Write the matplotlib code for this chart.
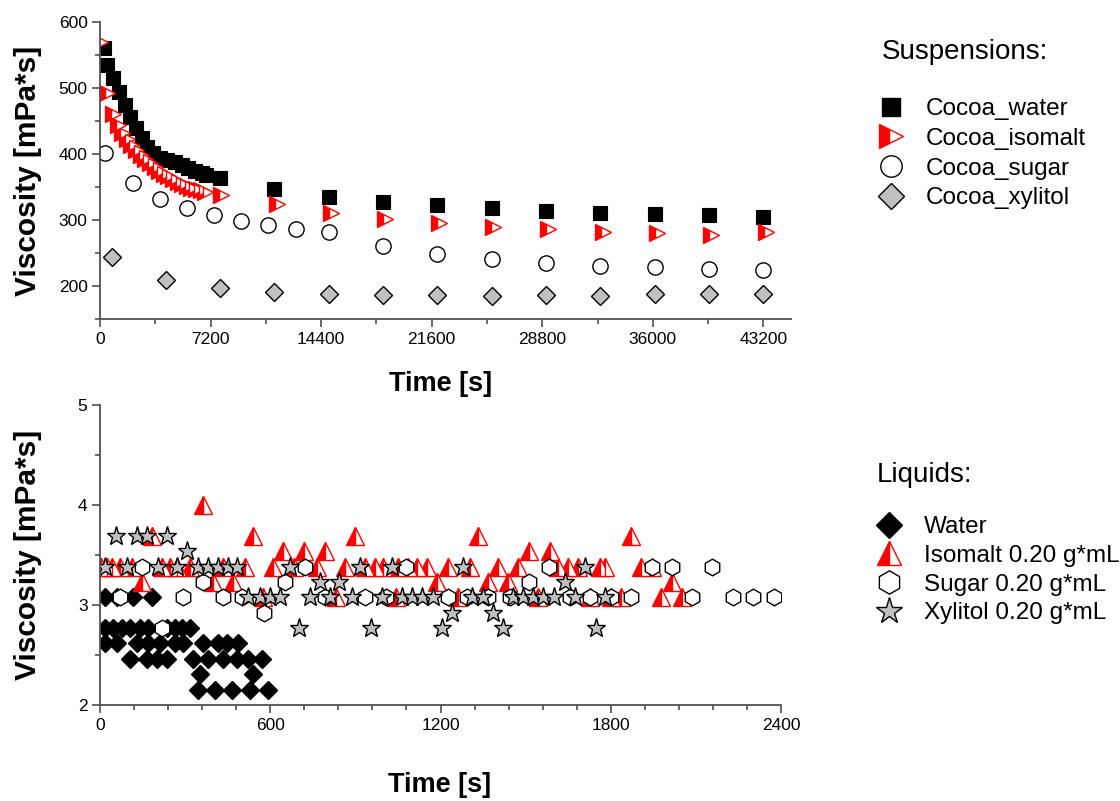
import matplotlib
matplotlib.use('Agg')
import matplotlib.pyplot as plt
from matplotlib.lines import Line2D
from matplotlib.ticker import MultipleLocator

plt.rcParams['font.family'] = ['Liberation Sans', 'DejaVu Sans']

# ---- suspensions: time [s], viscosity [mPa*s]
cw_t = [260, 456, 847, 1238, 1629, 1955, 2346, 2737, 3063, 3453, 3909, 4365, 4887, 5343, 5734, 6190, 6646, 6907,
        7820, 11340, 14920, 18440, 21960, 25540, 29060, 32580, 36160, 39680, 43200]
cw_v = [561, 535, 515, 494, 474, 456, 439, 424, 411, 402, 394, 391, 388, 383, 379, 374, 371, 368,
        364, 347, 335, 327, 323, 318, 314, 311, 309, 308, 305]

ci_t = [0, 450, 850, 1150, 1450, 1750, 2050, 2350, 2650, 2950, 3250, 3550, 3850, 4150, 4450, 4750, 5050, 5350,
        5650, 5950, 6250, 6550, 6850,
        7880, 11530, 15050, 18570, 22090, 25610, 29190, 32780, 36300, 39810, 43400]
ci_v = [570, 492, 461, 444, 432, 423, 414, 406, 399, 392, 386, 380, 375, 370, 366, 362, 358, 355,
        352, 349, 347, 345, 343,
        338, 324, 311, 302, 295, 289, 286, 282, 280, 277, 282]

cs_t = [330, 2150, 3900, 5670, 7430, 9190, 10950, 12770, 14920, 18440, 21960, 25540, 29060, 32580, 36160, 39680, 43200]
cs_v = [401, 356, 332, 318, 308, 299, 293, 287, 282, 261, 248, 241, 235, 230, 229, 226, 224]

cx_t = [780, 4300, 7820, 11340, 14920, 18440, 21960, 25540, 29060, 32580, 36160, 39680, 43200]
cx_v = [244, 209, 197, 191, 188, 186, 186, 185, 186, 185, 188, 188, 188]

# ---- liquids: time [s], viscosity [mPa*s]
lw_t = [18, 60, 116, 183,
        18, 46, 78, 106, 141, 169, 236, 264, 289, 317,
        18, 60, 130, 169, 211, 264, 292, 363, 416, 447, 486,
        106, 166, 201, 236, 328, 381, 433, 483, 522, 571,
        352, 539,
        345, 405, 465, 529, 592]
lw_v = [3.08, 3.08, 3.08, 3.08,
        2.77, 2.77, 2.77, 2.77, 2.77, 2.77, 2.77, 2.77, 2.77, 2.77,
        2.62, 2.62, 2.62, 2.62, 2.62, 2.62, 2.62, 2.62, 2.62, 2.62, 2.62,
        2.46, 2.46, 2.46, 2.46, 2.46, 2.46, 2.46, 2.46, 2.46, 2.46,
        2.31, 2.31,
        2.15, 2.15, 2.15, 2.15, 2.15]

li_t = [5, 24, 42, 70, 113, 218, 247, 271, 317, 433, 511, 610, 684, 765, 863, 934, 969, 997, 1050, 1085,
        1117, 1152, 1226, 1304, 1403, 1473, 1614, 1649, 1684, 1762, 1780, 1906, 1945,
        646, 720, 793, 1512, 1586,
        183, 540, 899, 1333, 1871,
        364,
        147, 398, 469, 1187, 1367, 1438, 2016,
        575, 831, 1044, 1262, 1543, 1727, 1801, 1836, 1977, 2051]
li_v = [3.38] * 33 + [3.54] * 5 + [3.69] * 5 + [4.00] + [3.23] * 7 + [3.08] * 10

ls_t = [147, 721, 1080, 1582, 1945, 2016, 2157,
        362, 651, 1512,
        70, 292, 433, 500, 793, 934, 1008, 1226, 1293, 1367, 1445, 1656, 1727, 1801, 1871, 2086, 2231, 2301, 2375,
        578,
        218]
ls_v = [3.38] * 7 + [3.23] * 3 + [3.08] * 19 + [2.92] + [2.77]

lx_t = [57, 130, 166, 236,
        306,
        18, 95, 204, 271, 345, 380, 416, 451, 483, 670, 916, 1029, 1280, 1709,
        775, 842, 1639,
        522, 564, 599, 634, 740, 810, 888, 994, 1064, 1099, 1135, 1173, 1311, 1350, 1455, 1491, 1526, 1561, 1600,
        1674, 1780,
        1240, 1385,
        701, 955, 1205, 1420, 1748]
lx_v = [3.69] * 4 + [3.54] + [3.38] * 14 + [3.23] * 3 + [3.08] * 21 + [2.92] * 2 + [2.77] * 5

susp_labels = ['Cocoa_water', 'Cocoa_isomalt', 'Cocoa_sugar', 'Cocoa_xylitol']
liq_labels = ['Water', 'Isomalt 0.20 g*mL', 'Sugar 0.20 g*mL', 'Xylitol 0.20 g*mL']

GREY = '#c0c0c0'
W, H = 1120, 801


def style_axes(ax):
    for s in ['top', 'right']:
        ax.spines[s].set_visible(False)
    for s in ['left', 'bottom']:
        ax.spines[s].set_color('#505050')
        ax.spines[s].set_linewidth(1.3)
    ax.tick_params(which='major', direction='out', length=6, width=1.2, color='#505050', labelsize=12.5, pad=3)
    ax.tick_params(which='minor', direction='out', length=3.5, width=1.2, color='#505050')


fig = plt.figure(figsize=(W / 100, H / 100), dpi=100)

# top panel: suspensions
ax1 = fig.add_axes([100 / W, 1 - 319 / H, 691 / W, 297 / H])
ax1.plot(cw_t, cw_v, 's', ms=9.5, color='black', mec='black', mew=0.8, linestyle='none')
ax1.plot(ci_t, ci_v, '>', ms=12, fillstyle='left', color='red', mfc='red', mfcalt='white', mec='red', mew=1,
         linestyle='none')
ax1.plot(cs_t, cs_v, 'o', ms=11, mfc='white', mec='black', mew=1, linestyle='none')
ax1.plot(cx_t, cx_v, 'D', ms=9.5, mfc=GREY, mec='black', mew=1, linestyle='none')
ax1.set_xlim(0, 45000)
ax1.set_ylim(150, 600)
ax1.set_xticks([0, 7200, 14400, 21600, 28800, 36000, 43200])
ax1.xaxis.set_minor_locator(MultipleLocator(3600))
ax1.set_yticks([200, 300, 400, 500, 600])
ax1.yaxis.set_minor_locator(MultipleLocator(50))
style_axes(ax1)
ax1.set_xlabel('Time [s]', fontsize=19.5, fontweight='bold')
ax1.set_ylabel('Viscosity [mPa*s]', fontsize=21.5, fontweight='bold')
ax1.xaxis.set_label_coords(0.493, -0.175)
ax1.yaxis.set_label_coords(-0.084, 0.5)

# bottom panel: liquids
ax2 = fig.add_axes([100 / W, 1 - 705 / H, 681 / W, 300 / H])
ax2.plot(lw_t, lw_v, 'D', ms=9.5, color='black', mec='black', linestyle='none')
ax2.plot(li_t, li_v, '^', ms=12.5, fillstyle='left', mfc='red', mfcalt='white', mec='red', mew=1,
         linestyle='none')
ax2.plot(ls_t, ls_v, 'h', ms=12, mfc='white', mec='black', mew=1, linestyle='none')
ax2.plot(lx_t, lx_v, '*', ms=14, mfc=GREY, mec='black', mew=1, linestyle='none')
ax2.set_xlim(0, 2400)
ax2.set_ylim(2, 5)
ax2.set_xticks([0, 600, 1200, 1800, 2400])
ax2.xaxis.set_minor_locator(MultipleLocator(120))
ax2.set_yticks([2, 3, 4, 5])
ax2.yaxis.set_minor_locator(MultipleLocator(0.5))
style_axes(ax2)
ax2.set_xlabel('Time [s]', fontsize=19.5, fontweight='bold')
ax2.set_ylabel('Viscosity [mPa*s]', fontsize=21.5, fontweight='bold')
ax2.xaxis.set_label_coords(0.499, -0.225)
ax2.yaxis.set_label_coords(-0.085, 0.5)

# legends
h1 = [Line2D([], [], marker='s', ms=9.5, color='black', linestyle='none'),
      Line2D([], [], marker='>', ms=12, fillstyle='left', mfc='red', mfcalt='white', mec='red', linestyle='none'),
      Line2D([], [], marker='o', ms=11, mfc='white', mec='black', linestyle='none'),
      Line2D([], [], marker='D', ms=9.5, mfc=GREY, mec='black', linestyle='none')]
h2 = [Line2D([], [], marker='D', ms=9.5, color='black', linestyle='none'),
      Line2D([], [], marker='^', ms=12.5, fillstyle='left', mfc='red', mfcalt='white', mec='red', linestyle='none'),
      Line2D([], [], marker='h', ms=12, mfc='white', mec='black', linestyle='none'),
      Line2D([], [], marker='*', ms=14, mfc=GREY, mec='black', linestyle='none')]

fig.text(882 / W, 1 - 52 / H, 'Suspensions:', fontsize=20, va='center', ha='left')
fig.text(877 / W, 1 - 475 / H, 'Liquids:', fontsize=20, va='center', ha='left')

fig.legend(h1, susp_labels, loc='upper left', bbox_to_anchor=(876 / W, 1 - 98 / H), frameon=False,
           fontsize=17.5, markerscale=1.4, handlelength=1.2, handletextpad=0.85, labelspacing=0.32,
           borderpad=0, borderaxespad=0, numpoints=1)
fig.legend(h2, liq_labels, loc='upper left', bbox_to_anchor=(874 / W, 1 - 516 / H), frameon=False,
           fontsize=17.5, markerscale=1.4, handlelength=1.2, handletextpad=0.85, labelspacing=0.28,
           borderpad=0, borderaxespad=0, numpoints=1)

fig.savefig('out.png', dpi=100)
